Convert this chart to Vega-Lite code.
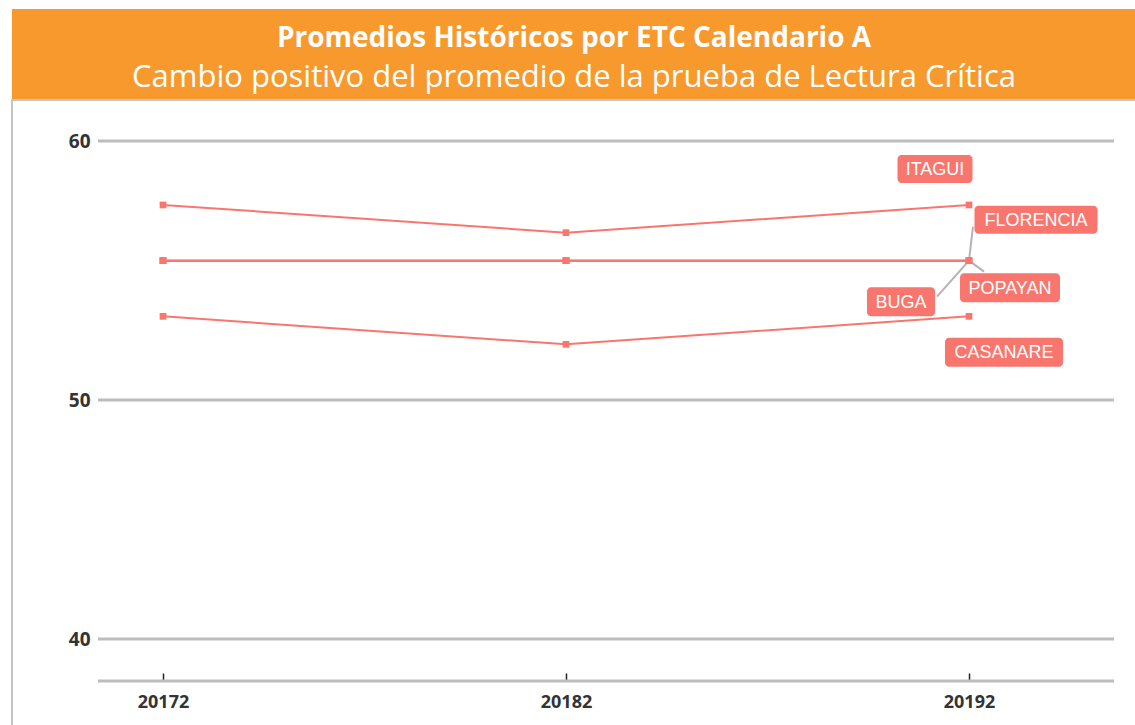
{
  "$schema": "https://vega.github.io/schema/vega-lite/v6.json",
  "background": "white",
  "padding": {"left": 11, "top": 9, "right": 0, "bottom": 0},
  "spacing": 0,
  "config": {"font": "Open Sans"},
  "datasets": {
    "banner": [
      {"linea": "titulo", "texto": "Promedios Históricos por ETC Calendario A"},
      {"linea": "subtitulo", "texto": "Cambio positivo del promedio de la prueba de Lectura Crítica"}
    ],
    "rejilla": [
      {"valor": 38.24, "inicio": 20170.387, "fin": 20195.598},
      {"valor": 40, "inicio": 20170.387, "fin": 20195.598},
      {"valor": 50, "inicio": 20170.387, "fin": 20195.598},
      {"valor": 60, "inicio": 20170.387, "fin": 20195.598}
    ],
    "promedios": [
      {"etc": "ITAGUI", "periodo": 20172, "promedio": 57.53},
      {"etc": "ITAGUI", "periodo": 20182, "promedio": 56.46},
      {"etc": "ITAGUI", "periodo": 20192, "promedio": 57.53},
      {"etc": "FLORENCIA", "periodo": 20172, "promedio": 55.38},
      {"etc": "FLORENCIA", "periodo": 20182, "promedio": 55.38},
      {"etc": "FLORENCIA", "periodo": 20192, "promedio": 55.38},
      {"etc": "BUGA", "periodo": 20172, "promedio": 55.38},
      {"etc": "BUGA", "periodo": 20182, "promedio": 55.38},
      {"etc": "BUGA", "periodo": 20192, "promedio": 55.38},
      {"etc": "POPAYAN", "periodo": 20172, "promedio": 55.38},
      {"etc": "POPAYAN", "periodo": 20182, "promedio": 55.38},
      {"etc": "POPAYAN", "periodo": 20192, "promedio": 55.38},
      {"etc": "CASANARE", "periodo": 20172, "promedio": 53.23},
      {"etc": "CASANARE", "periodo": 20182, "promedio": 52.15},
      {"etc": "CASANARE", "periodo": 20192, "promedio": 53.23}
    ]
  },
  "vconcat": [
    {
      "width": 1124,
      "height": 90,
      "view": {"fill": "#F7992D", "stroke": null},
      "data": {"name": "banner"},
      "encoding": {
        "text": {"field": "texto"},
        "y": {"field": "linea", "type": "nominal", "scale": {"type": "point", "domain": ["titulo", "subtitulo"], "range": [38, 78], "padding": 0}, "axis": null}
      },
      "layer": [
        {
          "transform": [{"filter": "datum.linea === 'titulo'"}],
          "mark": {"type": "text", "font": "Open Sans", "fontWeight": "bold", "fontSize": 28, "fill": "white", "baseline": "alphabetic", "align": "center"}
        },
        {
          "transform": [{"filter": "datum.linea === 'subtitulo'"}],
          "mark": {"type": "text", "font": "Open Sans", "fontWeight": 400, "fontSize": 31, "fill": "white", "baseline": "alphabetic", "align": "center"}
        }
      ]
    },
    {
      "width": 1130,
      "height": 640,
      "view": {"fill": "white", "stroke": "#c4c4c4", "strokeWidth": 2},
      "data": {"name": "promedios"},
      "encoding": {
        "x": {
          "field": "periodo", "type": "quantitative",
          "scale": {"domain": [20168.253, 20196.293], "nice": false, "zero": false},
          "axis": {
            "orient": "bottom", "offset": -59,
            "values": [20172, 20182, 20192], "format": "d", "title": null, "grid": false,
            "domain": false,
            "ticks": true, "tickColor": "#222222", "tickWidth": 1.5, "tickSize": -8,
            "labelFont": "Open Sans", "labelFontWeight": "bold", "labelFontSize": 18, "labelColor": "#333333",
            "labelPadding": 20, "labelFlush": false
          }
        },
        "y": {
          "field": "promedio", "type": "quantitative",
          "scale": {"domain": [35.77, 38.24, 40, 50, 60, 61.58], "range": [640, 581, 539, 300, 41, 0], "nice": false, "zero": false},
          "axis": {
            "orient": "left", "offset": -86, "values": [40, 50, 60], "title": null, "grid": false,
            "domain": false, "ticks": false,
            "labelFont": "Open Sans", "labelFontWeight": "bold", "labelFontSize": 19, "labelColor": "#333333", "labelPadding": 8
          }
        }
      },
      "layer": [
        {
          "data": {"name": "rejilla"},
          "mark": {"type": "rule", "color": "#bdbdbd", "strokeWidth": 3},
          "encoding": {
            "y": {"field": "valor", "type": "quantitative"},
            "x": {"field": "inicio", "type": "quantitative"},
            "x2": {"field": "fin"}
          }
        },
        {
          "transform": [{"filter": "datum.etc === 'FLORENCIA' && datum.periodo === 20192"}],
          "mark": {"type": "rule", "color": "#b4b4b4", "strokeWidth": 2, "x2Offset": 4, "y2Offset": -34},
          "encoding": {"x2": {"field": "periodo"}, "y2": {"field": "promedio"}}
        },
        {
          "transform": [{"filter": "datum.etc === 'BUGA' && datum.periodo === 20192"}],
          "mark": {"type": "rule", "color": "#b4b4b4", "strokeWidth": 2, "x2Offset": -32, "y2Offset": 36},
          "encoding": {"x2": {"field": "periodo"}, "y2": {"field": "promedio"}}
        },
        {
          "transform": [{"filter": "datum.etc === 'POPAYAN' && datum.periodo === 20192"}],
          "mark": {"type": "rule", "color": "#b4b4b4", "strokeWidth": 2, "x2Offset": 15, "y2Offset": 11},
          "encoding": {"x2": {"field": "periodo"}, "y2": {"field": "promedio"}}
        },
        {
          "mark": {"type": "line", "color": "#F8766D", "strokeWidth": 2},
          "encoding": {"detail": {"field": "etc"}}
        },
        {
          "mark": {"type": "point", "shape": "square", "filled": true, "color": "#F8766D", "size": 45, "opacity": 1},
          "encoding": {"detail": {"field": "etc"}}
        },
        {
          "transform": [{"filter": "datum.etc === 'ITAGUI' && datum.periodo === 20192"}],
          "mark": {"type": "rect", "fill": "#F8766D", "cornerRadius": 4, "width": 75, "height": 28, "xOffset": -34, "yOffset": -36},
          "encoding": {}
        },
        {
          "transform": [{"filter": "datum.etc === 'FLORENCIA' && datum.periodo === 20192"}],
          "mark": {"type": "rect", "fill": "#F8766D", "cornerRadius": 4, "width": 123, "height": 28, "xOffset": 67, "yOffset": -41},
          "encoding": {}
        },
        {
          "transform": [{"filter": "datum.etc === 'POPAYAN' && datum.periodo === 20192"}],
          "mark": {"type": "rect", "fill": "#F8766D", "cornerRadius": 4, "width": 100, "height": 29, "xOffset": 41, "yOffset": 27},
          "encoding": {}
        },
        {
          "transform": [{"filter": "datum.etc === 'BUGA' && datum.periodo === 20192"}],
          "mark": {"type": "rect", "fill": "#F8766D", "cornerRadius": 4, "width": 68, "height": 29, "xOffset": -68, "yOffset": 41},
          "encoding": {}
        },
        {
          "transform": [{"filter": "datum.etc === 'CASANARE' && datum.periodo === 20192"}],
          "mark": {"type": "rect", "fill": "#F8766D", "cornerRadius": 4, "width": 118, "height": 29, "xOffset": 35, "yOffset": 36},
          "encoding": {}
        },
        {
          "transform": [{"filter": "datum.etc === 'ITAGUI' && datum.periodo === 20192"}],
          "mark": {"type": "text", "font": "Liberation Sans", "fontSize": 18, "fill": "white", "align": "center", "baseline": "middle", "xOffset": -34, "yOffset": -35},
          "encoding": {"text": {"field": "etc"}}
        },
        {
          "transform": [{"filter": "datum.etc === 'FLORENCIA' && datum.periodo === 20192"}],
          "mark": {"type": "text", "font": "Liberation Sans", "fontSize": 18, "fill": "white", "align": "center", "baseline": "middle", "xOffset": 67, "yOffset": -40},
          "encoding": {"text": {"field": "etc"}}
        },
        {
          "transform": [{"filter": "datum.etc === 'POPAYAN' && datum.periodo === 20192"}],
          "mark": {"type": "text", "font": "Liberation Sans", "fontSize": 18, "fill": "white", "align": "center", "baseline": "middle", "xOffset": 41, "yOffset": 28},
          "encoding": {"text": {"field": "etc"}}
        },
        {
          "transform": [{"filter": "datum.etc === 'BUGA' && datum.periodo === 20192"}],
          "mark": {"type": "text", "font": "Liberation Sans", "fontSize": 18, "fill": "white", "align": "center", "baseline": "middle", "xOffset": -68, "yOffset": 42},
          "encoding": {"text": {"field": "etc"}}
        },
        {
          "transform": [{"filter": "datum.etc === 'CASANARE' && datum.periodo === 20192"}],
          "mark": {"type": "text", "font": "Liberation Sans", "fontSize": 18, "fill": "white", "align": "center", "baseline": "middle", "xOffset": 35, "yOffset": 37},
          "encoding": {"text": {"field": "etc"}}
        }
      ]
    }
  ]
}
